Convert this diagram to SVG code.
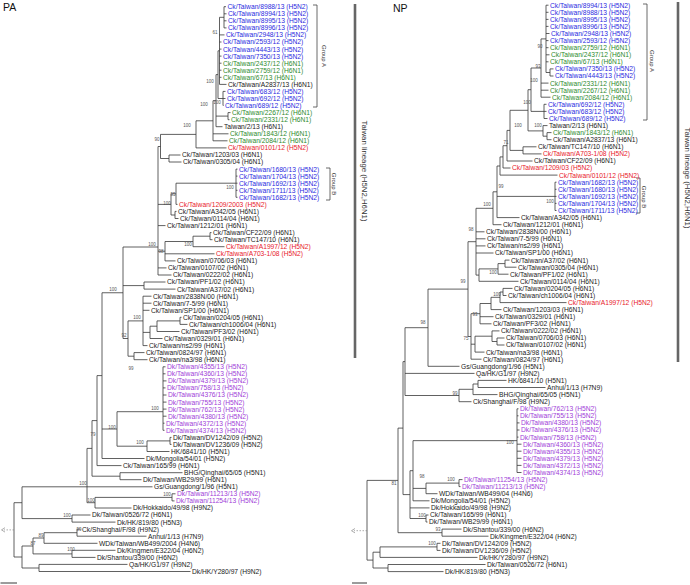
<svg xmlns="http://www.w3.org/2000/svg" width="690" height="585" viewBox="0 0 690 585">
<style>
text{font-family:"Liberation Sans",Arial,sans-serif}
.t{font-size:6.7px}
.k{fill:#1a1a1a}.b{fill:#2a2ae0}.g{fill:#2e8b2e}.r{fill:#e8202a}.p{fill:#a040d8}
.s{font-size:4.5px;fill:#555;text-anchor:middle}
.br{fill:none;stroke:#383838;stroke-width:0.8}
.bk{fill:none;stroke:#444;stroke-width:0.8}
.bar{stroke:#666;stroke-width:2.6}
.gl{font-size:6px;fill:#333;text-anchor:middle}
.tl{font-size:7.8px;fill:#333;text-anchor:middle}
.ttl{font-size:10.5px;fill:#111}
</style>
<rect width="690" height="585" fill="#fff"/>
<text class="ttl" x="3" y="10.5">PA</text>
<text class="ttl" x="393" y="11.5">NP</text>
<g id="pa-branches">
<path class="br" d="M224,6.7V27.9M224,6.7H226M224,13.8H226.5M224,20.8H226.5M224,27.9H226.5
M219.5,17.3V84.4M219.5,17.3H224M219.5,34.9H224.5M219.5,42H221.5M219.5,49.1H221.5M219.5,56.1H221.5M219.5,63.2H221.5M219.5,70.2H221.5M219.5,77.3H221.5M219.5,84.4H226.5
M223,91.4V105.5M223,91.4H225.5M223,98.5H225.5M223,105.5H223.5
M218,50.8V98.5M218,50.8H219.5M218,98.5H223
M228,112.6V119.7M228,112.6H230.5M228,119.7H229.5
M216,74.6V126.7M216,74.6H218M216,116.1H228M216,126.7H222.5
M213,100.7V140.8M213,100.7H216M213,133.8H228.5M213,140.8H227.5
M196,120.8V147.9M196,120.8H213M196,147.9H226.5
M169,155V162M169,155H180.5M169,162H181.5
M160.5,134.4V158.5M160.5,134.4H196M160.5,158.5H169
M236,169.1V197.3M236,169.1H237.5M236,176.1H237.5M236,183.2H237.5M236,190.3H237.5M236,197.3H237.5
M176,183.2V204.4M176,183.2H236M176,204.4H177.5
M175,211.4V218.5M175,211.4H176.5M175,218.5H178.5
M171,193.8V215M171,193.8H176M171,215H175
M210,232.6V239.7M210,232.6H211.5M210,239.7H212.5
M193,236.2V246.7M193,236.2H210M193,246.7H224.5
M165,241.5V260.9M165,241.5H193M165,253.8H214.5M165,260.9H175.5
M158,146.5V275M158,146.5H160.5M158,204.4H171M158,225.6H165.5M158,251.2H165M158,267.9H166.5M158,275H171.5
M144,282V289.1M144,282H165.5M144,289.1H175.5
M180,317.3V324.4M180,317.3H181.5M180,324.4H187.5
M157,320.9V331.5M157,320.9H180M157,331.5H179.5
M150,326.2V338.5M150,326.2H157M150,338.5H162.5
M143,296.2V345.6M143,296.2H151.5M143,303.2H151.5M143,310.3H149.5M143,332.4H150M143,345.6H147.5
M134,352.6V359.7M134,352.6H144.5M134,359.7H147.5
M128,320.9V356.2M128,320.9H143M128,356.2H134
M123,247V338.5M123,247H158M123,285.6H144M123,338.5H128
M163,366.8V430.3M163,366.8H165.5M163,373.8H165.5M163,380.9H166.5M163,387.9H165.5M163,395H166.5M163,402.1H166.5M163,409.1H166.5M163,416.2H166.5M163,423.2H164.5M163,430.3H164.5
M170,437.4V444.4M170,437.4H171.5M170,444.4H171.5
M147,440.9V451.5M147,440.9H170M147,451.5H169.5
M117,411.7V446.2M117,411.7H163M117,446.2H147
M102,292.75V458.5M102,292.75H123M102,429H117M102,458.5H144.5
M97,375.6V465.6M97,375.6H102M97,465.6H121.5
M120,472.7V479.7M120,472.7H182.5M120,479.7H141.5
M92,420.6V476.2M92,420.6H97M92,476.2H120
M172,493.8V500.9M172,493.8H175.5M172,500.9H174.5
M95,497.4V508M95,497.4H172M95,508H131.5
M87,448.4V502.7M87,448.4H92M87,486.8H152.5M87,502.7H95
M72,515V522.1M72,515H90.5M72,522.1H115.5
M22,486.8V518.6M22,486.8H87M22,518.6H72
M77,529.1V536.2M77,529.1H80.5M77,536.2H146.5
M44,532.7V543.3M44,532.7H77M44,543.3H97.5
M72,550.3V557.4M72,550.3H115.5M72,557.4H95.5
M33,538V553.9M33,538H44M33,553.9H72
M39,564.4V571.5M39,564.4H127.5M39,571.5H190.5
M22,546V568M22,546H33M22,568H39
M14,502.7V557M14,502.7H22M14,557H22"/>
<path d="M14,529.9H4" fill="none" stroke="#888" stroke-width="0.7" stroke-dasharray="1.5,1.5"/>
<polyline points="5,527.7 1.5,529.9 5,532.1" fill="none" stroke="#888" stroke-width="0.7"/>
<path d="M0.5,583H17" stroke="#222" stroke-width="0.9"/>
</g>
<g id="np-branches">
<path class="br" d="M546,5.2V72.5M546,5.2H548.5M546,12.3H548.5M546,19.4H548.5M546,26.4H548.5M546,33.5H549.5M546,40.6H548.5M546,47.7H548.5M546,54.8H549.5M546,61.8H548.5M546,72.5H550
M550,68.9V76M550,68.9H553.5M550,76H553.5
M541,38.9V97.2M541,38.9H546M541,83.1H548.5M541,90.2H548.5M541,97.2H550.5
M544,104.3V118.5M544,104.3H546.5M544,111.4H546.5M544,118.5H547.5
M531,68V111.4M531,68H541M531,111.4H544
M547,132.6V139.7M547,132.6H551.5M547,139.7H551.5
M543,125.6V136.2M543,125.6H547.5M543,136.2H547
M528,89.7V130.9M528,89.7H531M528,130.9H543
M523,146.8V153.9M523,146.8H536.5M523,153.9H541.5
M510,110.3V150.4M510,110.3H528M510,150.4H523
M507,130.4V161M507,130.4H510M507,161H532.5
M503,145.7V168M503,145.7H507M503,168H510.5
M500,156.9V175.1M500,156.9H503M500,175.1H557.5
M555,182.2V210.5M555,182.2H556.5M555,189.3H556.5M555,196.4H556.5M555,203.4H556.5M555,210.5H556.5
M497,166V217.6M497,166H500M497,196.4H555M497,217.6H519.5
M493,191.8V224.7M493,191.8H497M493,224.7H501.5
M505,260.1V267.2M505,260.1H509.5M505,267.2H516.5
M498,263.6V274.2M498,263.6H505M498,274.2H508.5
M479,268.9V281.3M479,268.9H498M479,281.3H518.5
M476,208.3V275.1M476,208.3H493M476,231.8H484.5M476,238.8H485.5M476,245.9H485.5M476,253H493.5M476,275.1H479
M503,288.4V295.5M503,288.4H512.5M503,295.5H506.5
M500,292V302.6M500,292H503M500,302.6H566.5
M491,297.3V309.6M491,297.3H500M491,309.6H501.5
M480,303.5V323.8M480,303.5H491M480,316.7H493.5M480,323.8H491.5
M497,338V345M497,338H504.5M497,345H504.5
M492,330.9V341.5M492,330.9H499.5M492,341.5H497
M475,336.2V352.1M475,336.2H492M475,352.1H484.5
M471,313.7V359.2M471,313.7H480M471,344.2H475M471,359.2H481.5
M468,241.7V336.5M468,241.7H476M468,336.5H471
M428,289.1V366.3M428,289.1H468M428,366.3H459.5
M478,380.4V387.5M478,380.4H506.5M478,387.5H545.5
M473,384V394.6M473,384H478M473,394.6H497.5
M459,389.3V401.7M459,389.3H473M459,401.7H471.5
M405,327.7V395.5M405,327.7H428M405,373.4H474.5M405,395.5H459
M517,408.8V472.5M517,408.8H518.5M517,415.8H518.5M517,422.9H519.5M517,430H519.5M517,437.1H518.5M517,444.2H521.5M517,451.2H521.5M517,458.3H521.5M517,465.4H521.5M517,472.5H521.5
M459,479.6V486.6M459,479.6H462.5M459,486.6H460.5
M426,483.1V493.7M426,483.1H459M426,493.7H437.5
M413,440.65V500.8M413,440.65H517M413,488.4H426M413,500.8H429.5
M426,515V522M426,515H428.5M426,522H427.5
M410,470.7V518.5M410,470.7H413M410,507.9H429.5M410,518.5H426
M403,361.6V494.6M403,361.6H405M403,494.6H410
M442,529.1V536.2M442,529.1H461.5M442,536.2H488.5
M398,428.1V532.7M398,428.1H403M398,532.7H442
M437,543.3V550.4M437,543.3H440.5M437,550.4H440.5
M380,546.9V557.4M380,546.9H437M380,557.4H477.5
M388,564.5V571.6M388,564.5H485.5M388,571.6H443.5
M373,552.2V568M373,552.2H380M373,568H388
M367,480.4V560.1M367,480.4H398M367,560.1H373"/>
<path d="M367,530.7H354" fill="none" stroke="#888" stroke-width="0.7" stroke-dasharray="1.5,1.5"/>
<polyline points="355,528.5 351.5,530.7 355,532.9" fill="none" stroke="#888" stroke-width="0.7"/>
<path d="M352,583H367" stroke="#222" stroke-width="0.9"/>
</g>
<g id="brackets">
<path class="bk" d="M313,5H317V107H313"/>
<text class="gl" transform="translate(322,56) rotate(90)">Group A</text>
<path class="bk" d="M326,168H330V200H326"/>
<text class="gl" transform="translate(331.5,184) rotate(90)">Group B</text>
<path class="bk" d="M643,4H647V120H643"/>
<text class="gl" transform="translate(649.5,61) rotate(90)">Group A</text>
<path class="bk" d="M636,178H640V213H636"/>
<text class="gl" transform="translate(641.5,197) rotate(90)">Group B</text>
<path class="bar" d="M355,4V358"/>
<text class="tl" transform="translate(362,171) rotate(90)">Taiwan lineage (H5N2,H6N1)</text>
<path class="bar" d="M678,2V362"/>
<text class="tl" transform="translate(684.5,178) rotate(90)">Taiwan lineage (H5N2,H6N1)</text>
</g>
<g id="pa-support">
<text class="s" x="215" y="33.6">61</text>
<text class="s" x="210" y="82.6">100</text>
<text class="s" x="217" y="103.6">100</text>
<text class="s" x="204" y="105.6">100</text>
<text class="s" x="187" y="126.6">100</text>
<text class="s" x="157" y="140.6">90</text>
<text class="s" x="230" y="188.6">100</text>
<text class="s" x="173" y="195.6">95</text>
<text class="s" x="167" y="204.6">100</text>
<text class="s" x="188" y="245.6">100</text>
<text class="s" x="161" y="252.6">98</text>
<text class="s" x="152" y="245.6">100</text>
<text class="s" x="113" y="290.6">100</text>
<text class="s" x="137" y="318.6">100</text>
<text class="s" x="124" y="336.6">92</text>
<text class="s" x="131" y="369.6">99</text>
<text class="s" x="155" y="409.6">100</text>
<text class="s" x="112" y="428.6">100</text>
<text class="s" x="93" y="435.6">79</text>
<text class="s" x="140" y="443.6">100</text>
<text class="s" x="83" y="484.6">100</text>
<text class="s" x="167" y="495.6">100</text>
<text class="s" x="91" y="501.6">100</text>
<text class="s" x="67" y="516.6">100</text>
<text class="s" x="79" y="530.6">99</text>
<text class="s" x="41" y="536.6">89</text>
<text class="s" x="33" y="544.6">87</text>
<text class="s" x="71" y="550.6">100</text>
</g>
<g id="np-support">
<text class="s" x="540" y="47.6">90</text>
<text class="s" x="538" y="67.6">93</text>
<text class="s" x="534" y="81.6">100</text>
<text class="s" x="527" y="103.6">100</text>
<text class="s" x="518" y="126.6">100</text>
<text class="s" x="538" y="126.6">100</text>
<text class="s" x="506" y="143.6">71</text>
<text class="s" x="501" y="187.6">99</text>
<text class="s" x="550" y="202.6">100</text>
<text class="s" x="487" y="205.6">100</text>
<text class="s" x="471" y="230.6">98</text>
<text class="s" x="493" y="273.6">100</text>
<text class="s" x="463" y="282.6">99</text>
<text class="s" x="497" y="295.6">100</text>
<text class="s" x="475" y="315.6">93</text>
<text class="s" x="423" y="323.6">98</text>
<text class="s" x="466" y="339.6">75</text>
<text class="s" x="455" y="394.6">99</text>
<text class="s" x="510" y="443.6">100</text>
<text class="s" x="422" y="477.6">98</text>
<text class="s" x="451" y="480.6">100</text>
<text class="s" x="394" y="484.6">81</text>
<text class="s" x="422" y="516.6">100</text>
<text class="s" x="438" y="530.6">93</text>
<text class="s" x="432" y="544.6">100</text>
</g>
<g id="pa-leaves">
<text id="pa1" class="t b" x="227.5" y="9.1">Ck/Taiwan/8988/13 (H5N2)</text>
<text id="pa2" class="t b" x="228" y="16.2">Ck/Taiwan/8994/13 (H5N2)</text>
<text id="pa3" class="t b" x="228" y="23.2">Ck/Taiwan/8995/13 (H5N2)</text>
<text id="pa4" class="t b" x="228" y="30.3">Ck/Taiwan/8996/13 (H5N2)</text>
<text id="pa5" class="t b" x="226" y="37.3">Ck/Taiwan/2948/13 (H5N2)</text>
<text id="pa6" class="t b" x="223" y="44.4">Ck/Taiwan/2593/12 (H5N2)</text>
<text id="pa7" class="t b" x="223" y="51.5">Ck/Taiwan/4443/13 (H5N2)</text>
<text id="pa8" class="t b" x="223" y="58.5">Ck/Taiwan/7350/13 (H5N2)</text>
<text id="pa9" class="t g" x="223" y="65.6">Ck/Taiwan/2437/12 (H6N1)</text>
<text id="pa10" class="t g" x="223" y="72.6">Ck/Taiwan/2759/12 (H6N1)</text>
<text id="pa11" class="t g" x="223" y="79.7">Ck/Taiwan/67/13 (H6N1)</text>
<text id="pa12" class="t k" x="228" y="86.8">Ck/Taiwan/A2837/13 (H6N1)</text>
<text id="pa13" class="t b" x="227" y="93.8">Ck/Taiwan/683/12 (H5N2)</text>
<text id="pa14" class="t b" x="227" y="100.9">Ck/Taiwan/692/12 (H5N2)</text>
<text id="pa15" class="t b" x="225" y="107.9">Ck/Taiwan/689/12 (H5N2)</text>
<text id="pa16" class="t g" x="232" y="115">Ck/Taiwan/2267/12 (H6N1)</text>
<text id="pa17" class="t g" x="231" y="122.1">Ck/Taiwan/2331/12 (H6N1)</text>
<text id="pa18" class="t k" x="224" y="129.1">Taiwan/2/13 (H6N1)</text>
<text id="pa19" class="t g" x="230" y="136.2">Ck/Taiwan/1843/12 (H6N1)</text>
<text id="pa20" class="t g" x="229" y="143.2">Ck/Taiwan/2084/12 (H6N1)</text>
<text id="pa21" class="t r" x="228" y="150.3">Ck/Taiwan/0101/12 (H5N2)</text>
<text id="pa22" class="t k" x="182" y="157.4">Ck/Taiwan/1203/03 (H6N1)</text>
<text id="pa23" class="t k" x="183" y="164.4">Ck/Taiwan/0305/04 (H6N1)</text>
<text id="pa24" class="t b" x="239" y="171.5">Ck/Taiwan/1680/13 (H5N2)</text>
<text id="pa25" class="t b" x="239" y="178.5">Ck/Taiwan/1704/13 (H5N2)</text>
<text id="pa26" class="t b" x="239" y="185.6">Ck/Taiwan/1692/13 (H5N2)</text>
<text id="pa27" class="t b" x="239" y="192.7">Ck/Taiwan/1711/13 (H5N2)</text>
<text id="pa28" class="t b" x="239" y="199.7">Ck/Taiwan/1682/13 (H5N2)</text>
<text id="pa29" class="t r" x="179" y="206.8">Ck/Taiwan/1209/2003 (H5N2)</text>
<text id="pa30" class="t k" x="178" y="213.8">Ck/Taiwan/A342/05 (H6N1)</text>
<text id="pa31" class="t k" x="180" y="220.9">Ck/Taiwan/0114/04 (H6N1)</text>
<text id="pa32" class="t k" x="167" y="228">Ck/Taiwan/1212/01 (H6N1)</text>
<text id="pa33" class="t k" x="213" y="235">Ck/Taiwan/CF22/09 (H6N1)</text>
<text id="pa34" class="t k" x="214" y="242.1">Ck/Taiwan/TC147/10 (H6N1)</text>
<text id="pa35" class="t r" x="226" y="249.1">Ck/Taiwan/A1997/12 (H5N2)</text>
<text id="pa36" class="t r" x="216" y="256.2">Ck/Taiwan/A703-1/08 (H5N2)</text>
<text id="pa37" class="t k" x="177" y="263.3">Ck/Taiwan/0706/03 (H6N1)</text>
<text id="pa38" class="t k" x="168" y="270.3">Ck/Taiwan/0107/02 (H6N1)</text>
<text id="pa39" class="t k" x="173" y="277.4">Ck/Taiwan/0222/02 (H6N1)</text>
<text id="pa40" class="t k" x="167" y="284.4">Ck/Taiwan/PF1/02 (H6N1)</text>
<text id="pa41" class="t k" x="177" y="291.5">Ck/Taiwan/A37/02 (H6N1)</text>
<text id="pa42" class="t k" x="153" y="298.6">Ck/Taiwan/2838N/00 (H6N1)</text>
<text id="pa43" class="t k" x="153" y="305.6">Ck/Taiwan/7-5/99 (H6N1)</text>
<text id="pa44" class="t k" x="151" y="312.7">Ck/Taiwan/SP1/00 (H6N1)</text>
<text id="pa45" class="t k" x="183" y="319.7">Ck/Taiwan/0204/05 (H6N1)</text>
<text id="pa46" class="t k" x="189" y="326.8">Ck/Taiwan/ch1006/04 (H6N1)</text>
<text id="pa47" class="t k" x="181" y="333.9">Ck/Taiwan/PF3/02 (H6N1)</text>
<text id="pa48" class="t k" x="164" y="340.9">Ck/Taiwan/0329/01 (H6N1)</text>
<text id="pa49" class="t k" x="149" y="348">Ck/Taiwan/ns2/99 (H6N1)</text>
<text id="pa50" class="t k" x="146" y="355">Ck/Taiwan/0824/97 (H6N1)</text>
<text id="pa51" class="t k" x="149" y="362.1">Ck/Taiwan/na3/98 (H6N1)</text>
<text id="pa52" class="t p" x="167" y="369.2">Dk/Taiwan/4355/13 (H5N2)</text>
<text id="pa53" class="t p" x="167" y="376.2">Dk/Taiwan/4360/13 (H5N2)</text>
<text id="pa54" class="t p" x="168" y="383.3">Dk/Taiwan/4379/13 (H5N2)</text>
<text id="pa55" class="t p" x="167" y="390.3">Dk/Taiwan/758/13 (H5N2)</text>
<text id="pa56" class="t p" x="168" y="397.4">Dk/Taiwan/4376/13 (H5N2)</text>
<text id="pa57" class="t p" x="168" y="404.5">Dk/Taiwan/755/13 (H5N2)</text>
<text id="pa58" class="t p" x="168" y="411.5">Dk/Taiwan/762/13 (H5N2)</text>
<text id="pa59" class="t p" x="168" y="418.6">Dk/Taiwan/4380/13 (H5N2)</text>
<text id="pa60" class="t p" x="166" y="425.6">Dk/Taiwan/4372/13 (H5N2)</text>
<text id="pa61" class="t p" x="166" y="432.7">Dk/Taiwan/4374/13 (H5N2)</text>
<text id="pa62" class="t k" x="173" y="439.8">Dk/Taiwan/DV1242/09 (H5N2)</text>
<text id="pa63" class="t k" x="173" y="446.8">Dk/Taiwan/DV1236/09 (H5N2)</text>
<text id="pa64" class="t k" x="171" y="453.9">HK/6841/10 (H5N1)</text>
<text id="pa65" class="t k" x="146" y="460.9">Dk/Mongolia/54/01 (H5N2)</text>
<text id="pa66" class="t k" x="123" y="468">Ck/Taiwan/165/99 (H6N1)</text>
<text id="pa67" class="t k" x="184" y="475.1">BHG/Qinghai/65/05 (H5N1)</text>
<text id="pa68" class="t k" x="143" y="482.1">Dk/Taiwan/WB29/99 (H6N1)</text>
<text id="pa69" class="t k" x="154" y="489.2">Gs/Guangdong/1/96 (H5N1)</text>
<text id="pa70" class="t p" x="177" y="496.2">Dk/Taiwan/11213/13 (H5N2)</text>
<text id="pa71" class="t p" x="176" y="503.3">Dk/Taiwan/11254/13 (H5N2)</text>
<text id="pa72" class="t k" x="133" y="510.4">Dk/Hokkaido/49/98 (H9N2)</text>
<text id="pa73" class="t k" x="92" y="517.4">Dk/Taiwan/0526/72 (H6N1)</text>
<text id="pa74" class="t k" x="117" y="524.5">Dk/HK/819/80 (H5N3)</text>
<text id="pa75" class="t k" x="82" y="531.5">Ck/Shanghai/F/98 (H9N2)</text>
<text id="pa76" class="t k" x="148" y="538.6">Anhui/1/13 (H7N9)</text>
<text id="pa77" class="t k" x="99" y="545.7">WDk/Taiwan/WB499/2004 (H4N6)</text>
<text id="pa78" class="t k" x="117" y="552.7">Dk/Kingmen/E322/04 (H6N2)</text>
<text id="pa79" class="t k" x="97" y="559.8">Dk/Shantou/339/00 (H6N2)</text>
<text id="pa80" class="t k" x="129" y="566.8">Qa/HK/G1/97 (H9N2)</text>
<text id="pa81" class="t k" x="192" y="573.9">Dk/HK/Y280/97 (H9N2)</text>
</g>
<g id="np-leaves">
<text id="np1" class="t b" x="550" y="7.6">Ck/Taiwan/8994/13 (H5N2)</text>
<text id="np2" class="t b" x="550" y="14.7">Ck/Taiwan/8988/13 (H5N2)</text>
<text id="np3" class="t b" x="550" y="21.8">Ck/Taiwan/8995/13 (H5N2)</text>
<text id="np4" class="t b" x="550" y="28.8">Ck/Taiwan/8996/13 (H5N2)</text>
<text id="np5" class="t b" x="551" y="35.9">Ck/Taiwan/2948/13 (H5N2)</text>
<text id="np6" class="t b" x="550" y="43">Ck/Taiwan/2593/12 (H5N2)</text>
<text id="np7" class="t g" x="550" y="50.1">Ck/Taiwan/2759/12 (H6N1)</text>
<text id="np8" class="t g" x="551" y="57.2">Ck/Taiwan/2437/12 (H6N1)</text>
<text id="np9" class="t g" x="550" y="64.2">Ck/Taiwan/67/13 (H6N1)</text>
<text id="np10" class="t b" x="555" y="71.3">Ck/Taiwan/7350/13 (H5N2)</text>
<text id="np11" class="t b" x="555" y="78.4">Ck/Taiwan/4443/13 (H5N2)</text>
<text id="np12" class="t g" x="550" y="85.5">Ck/Taiwan/2331/12 (H6N1)</text>
<text id="np13" class="t g" x="550" y="92.6">Ck/Taiwan/2267/12 (H6N1)</text>
<text id="np14" class="t g" x="552" y="99.6">Ck/Taiwan/2084/12 (H6N1)</text>
<text id="np15" class="t b" x="548" y="106.7">Ck/Taiwan/692/12 (H5N2)</text>
<text id="np16" class="t b" x="548" y="113.8">Ck/Taiwan/683/12 (H5N2)</text>
<text id="np17" class="t b" x="549" y="120.9">Ck/Taiwan/689/12 (H5N2)</text>
<text id="np18" class="t k" x="549" y="128">Taiwan/2/13 (H6N1)</text>
<text id="np19" class="t g" x="553" y="135">Ck/Taiwan/1843/12 (H6N1)</text>
<text id="np20" class="t k" x="553" y="142.1">Ck/Taiwan/A2837/13 (H6N1)</text>
<text id="np21" class="t k" x="538" y="149.2">Ck/Taiwan/TC147/10 (H6N1)</text>
<text id="np22" class="t r" x="543" y="156.3">Ck/Taiwan/A703-1/08 (H5N2)</text>
<text id="np23" class="t k" x="534" y="163.4">Ck/Taiwan/CF22/09 (H6N1)</text>
<text id="np24" class="t r" x="512" y="170.4">Ck/Taiwan/1209/03 (H5N2)</text>
<text id="np25" class="t r" x="559" y="177.5">Ck/Taiwan/0101/12 (H5N2)</text>
<text id="np26" class="t b" x="558" y="184.6">Ck/Taiwan/1682/13 (H5N2)</text>
<text id="np27" class="t b" x="558" y="191.7">Ck/Taiwan/1680/13 (H5N2)</text>
<text id="np28" class="t b" x="558" y="198.8">Ck/Taiwan/1692/13 (H5N2)</text>
<text id="np29" class="t b" x="558" y="205.8">Ck/Taiwan/1704/13 (H5N2)</text>
<text id="np30" class="t b" x="558" y="212.9">Ck/Taiwan/1711/13 (H5N2)</text>
<text id="np31" class="t k" x="521" y="220">Ck/Taiwan/A342/05 (H6N1)</text>
<text id="np32" class="t k" x="503" y="227.1">Ck/Taiwan/1212/01 (H6N1)</text>
<text id="np33" class="t k" x="486" y="234.2">Ck/Taiwan/2838N/00 (H6N1)</text>
<text id="np34" class="t k" x="487" y="241.2">Ck/Taiwan/7-5/99 (H6N1)</text>
<text id="np35" class="t k" x="487" y="248.3">Ck/Taiwan/ns2/99 (H6N1)</text>
<text id="np36" class="t k" x="495" y="255.4">Ck/Taiwan/SP1/00 (H6N1)</text>
<text id="np37" class="t k" x="511" y="262.5">Ck/Taiwan/A37/02 (H6N1)</text>
<text id="np38" class="t k" x="518" y="269.6">Ck/Taiwan/0305/04 (H6N1)</text>
<text id="np39" class="t k" x="510" y="276.6">Ck/Taiwan/PF1/02 (H6N1)</text>
<text id="np40" class="t k" x="520" y="283.7">Ck/Taiwan/0114/04 (H6N1)</text>
<text id="np41" class="t k" x="514" y="290.8">Ck/Taiwan/0204/05 (H6N1)</text>
<text id="np42" class="t k" x="508" y="297.9">Ck/Taiwan/ch1006/04 (H6N1)</text>
<text id="np43" class="t r" x="568" y="305">Ck/Taiwan/A1997/12 (H5N2)</text>
<text id="np44" class="t k" x="503" y="312">Ck/Taiwan/1203/03 (H6N1)</text>
<text id="np45" class="t k" x="495" y="319.1">Ck/Taiwan/0329/01 (H6N1)</text>
<text id="np46" class="t k" x="493" y="326.2">Ck/Taiwan/PF3/02 (H6N1)</text>
<text id="np47" class="t k" x="501" y="333.3">Ck/Taiwan/0222/02 (H6N1)</text>
<text id="np48" class="t k" x="506" y="340.4">Ck/Taiwan/0706/03 (H6N1)</text>
<text id="np49" class="t k" x="506" y="347.4">Ck/Taiwan/0107/02 (H6N1)</text>
<text id="np50" class="t k" x="486" y="354.5">Ck/Taiwan/na3/98 (H6N1)</text>
<text id="np51" class="t k" x="483" y="361.6">Ck/Taiwan/0824/97 (H6N1)</text>
<text id="np52" class="t k" x="461" y="368.7">Gs/Guangdong/1/96 (H5N1)</text>
<text id="np53" class="t k" x="476" y="375.8">Qa/HK/G1/97 (H9N2)</text>
<text id="np54" class="t k" x="508" y="382.8">HK/6841/10 (H5N1)</text>
<text id="np55" class="t k" x="547" y="389.9">Anhui/1/13 (H7N9)</text>
<text id="np56" class="t k" x="499" y="397">BHG/Qinghai/65/05 (H5N1)</text>
<text id="np57" class="t k" x="473" y="404.1">Ck/Shanghai/F/98 (H9N2)</text>
<text id="np58" class="t p" x="520" y="411.2">Dk/Taiwan/762/13 (H5N2)</text>
<text id="np59" class="t p" x="520" y="418.2">Dk/Taiwan/755/13 (H5N2)</text>
<text id="np60" class="t p" x="521" y="425.3">Dk/Taiwan/4380/13 (H5N2)</text>
<text id="np61" class="t p" x="521" y="432.4">Dk/Taiwan/4376/13 (H5N2)</text>
<text id="np62" class="t p" x="520" y="439.5">Dk/Taiwan/758/13 (H5N2)</text>
<text id="np63" class="t p" x="523" y="446.6">Dk/Taiwan/4360/13 (H5N2)</text>
<text id="np64" class="t p" x="523" y="453.6">Dk/Taiwan/4355/13 (H5N2)</text>
<text id="np65" class="t p" x="523" y="460.7">Dk/Taiwan/4379/13 (H5N2)</text>
<text id="np66" class="t p" x="523" y="467.8">Dk/Taiwan/4372/13 (H5N2)</text>
<text id="np67" class="t p" x="523" y="474.9">Dk/Taiwan/4374/13 (H5N2)</text>
<text id="np68" class="t p" x="464" y="482">Dk/Taiwan/11254/13 (H5N2)</text>
<text id="np69" class="t p" x="462" y="489">Dk/Taiwan/11213/13 (H5N2)</text>
<text id="np70" class="t k" x="439" y="496.1">WDk/Taiwan/WB499/04 (H4N6)</text>
<text id="np71" class="t k" x="431" y="503.2">Dk/Mongolia/54/01 (H5N2)</text>
<text id="np72" class="t k" x="431" y="510.3">Dk/Hokkaido/49/98 (H9N2)</text>
<text id="np73" class="t k" x="430" y="517.4">Ck/Taiwan/165/99 (H6N1)</text>
<text id="np74" class="t k" x="429" y="524.4">Dk/Taiwan/WB29/99 (H6N1)</text>
<text id="np75" class="t k" x="463" y="531.5">Dk/Shantou/339/00 (H6N2)</text>
<text id="np76" class="t k" x="490" y="538.6">Dk/Kingmen/E322/04 (H6N2)</text>
<text id="np77" class="t k" x="442" y="545.7">Dk/Taiwan/DV1242/09 (H5N2)</text>
<text id="np78" class="t k" x="442" y="552.8">Dk/Taiwan/DV1236/09 (H5N2)</text>
<text id="np79" class="t k" x="479" y="559.8">Dk/HK/Y280/97 (H9N2)</text>
<text id="np80" class="t k" x="487" y="566.9">Dk/Taiwan/0526/72 (H6N1)</text>
<text id="np81" class="t k" x="445" y="574">Dk/HK/819/80 (H5N3)</text>
</g>
</svg>
